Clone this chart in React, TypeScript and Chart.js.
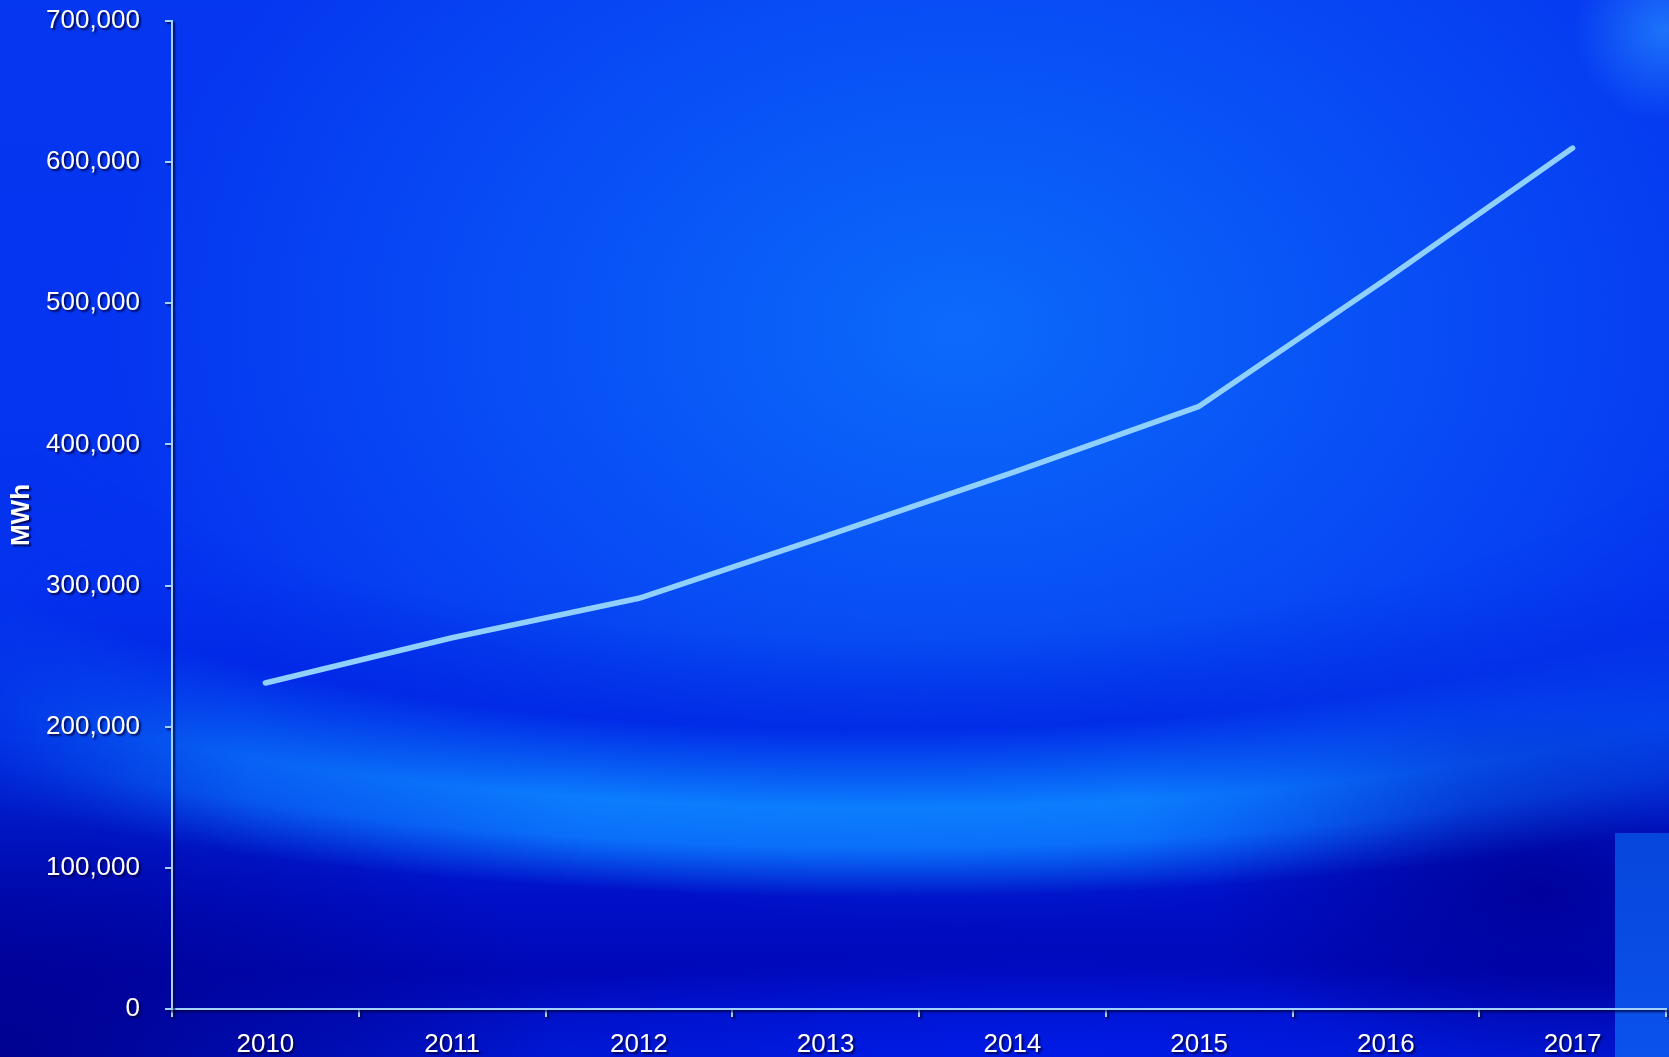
import React, { useEffect, useRef } from "react";
import { Chart, registerables } from "chart.js";

Chart.register(...registerables);

const years = ["2010", "2011", "2012", "2013", "2014", "2015", "2016", "2017"];
const mwh = [231000, 263000, 291000, 335000, 380000, 427000, 517000, 610000];
const yMin = 0;
const yMax = 700000;
const yStep = 100000;
const yTitle = "MWh";

const FONT = "'Liberation Sans', Arial, Helvetica, sans-serif";
const AXIS = "#9fd2ff";

const shadowPlugin = {
  id: "textShadow",
  beforeDraw(chart: any) {
    const ctx = chart.ctx;
    ctx.shadowColor = "rgba(0,0,60,0.85)";
    ctx.shadowOffsetX = 2;
    ctx.shadowOffsetY = 2;
    ctx.shadowBlur = 2;
  },
  beforeDatasetsDraw(chart: any) {
    const ctx = chart.ctx;
    ctx.shadowColor = "rgba(0,0,0,0)";
    ctx.shadowOffsetX = 0;
    ctx.shadowOffsetY = 0;
    ctx.shadowBlur = 0;
  },
};

export default function App() {
  const ref = useRef<HTMLCanvasElement | null>(null);

  useEffect(() => {
    if (!ref.current) return;
    const chart = new Chart(ref.current, {
      type: "line",
      data: {
        labels: years,
        datasets: [
          {
            data: mwh,
            borderColor: "#8fd0ff",
            borderWidth: 5.5,
            borderCapStyle: "round",
            borderJoinStyle: "round",
            pointRadius: 0,
            tension: 0,
            fill: false,
          },
        ],
      },
      options: {
        animation: false,
        responsive: true,
        maintainAspectRatio: false,
        layout: { padding: { top: 0, right: 3, left: 0, bottom: 0 } },
        plugins: { legend: { display: false }, tooltip: { enabled: false } },
        scales: {
          x: {
            offset: true,
            grid: {
              offset: true,
              drawOnChartArea: false,
              drawTicks: true,
              tickLength: 8,
              color: AXIS,
              lineWidth: 2,
            },
            border: { display: true, color: AXIS, width: 2 },
            ticks: {
              color: "#ffffff",
              padding: 12,
              font: { family: FONT, size: 26 },
              maxRotation: 0,
            },
            afterFit: (s: any) => {
              s.height = 48;
              s.paddingLeft = 0;
              s.paddingRight = 0;
            },
          },
          y: {
            min: yMin,
            max: yMax,
            grid: {
              drawOnChartArea: false,
              drawTicks: true,
              tickLength: 7,
              color: AXIS,
              lineWidth: 2,
            },
            border: { display: true, color: AXIS, width: 2 },
            ticks: {
              stepSize: yStep,
              color: "#ffffff",
              padding: 25,
              font: { family: FONT, size: 26 },
              callback: (v: any) => Number(v).toLocaleString("en-US"),
            },
            title: {
              display: true,
              text: yTitle,
              color: "#ffffff",
              font: { family: FONT, size: 26, weight: "bold" },
              padding: { top: 6, bottom: 0 },
            },
            afterFit: (s: any) => {
              s.width = 172;
              s.paddingTop = 21;
              s.paddingBottom = 0;
            },
          },
        },
      },
      plugins: [shadowPlugin],
    } as any);
    return () => chart.destroy();
  }, []);

  const bg = [
    "radial-gradient(circle 90px at 1664px 30px, rgba(40,140,255,0.7), rgba(40,140,255,0))",
    "radial-gradient(ellipse 560px 320px at 0px 1057px, rgba(0,0,140,0.95), rgba(0,0,140,0))",
    "radial-gradient(ellipse 330px 180px at 1540px 890px, rgba(0,0,150,0.9), rgba(0,0,150,0))",
    "radial-gradient(ellipse 700px 110px at 1050px 1057px, rgba(0,28,235,0.85), rgba(0,28,235,0))",
    "radial-gradient(ellipse 850px 600px at 960px 330px, rgba(12,112,252,0.9), rgba(12,112,252,0))",
    "linear-gradient(to bottom, #0536f0 0%, #0534f0 55%, #0024dc 75%, #0010c8 85%, #0008b8 92%, #0016cc 100%)",
  ].join(", ");

  const ringTop = 450;
  const ring =
    `radial-gradient(ellipse 1700px 560px at 880px ${360 - ringTop}px, rgba(0,30,230,0) 50%, rgba(0,34,230,0.6) 66%, rgba(12,130,255,0.95) 80%, rgba(12,125,255,0.85) 87%, rgba(0,20,200,0) 96%)`;
  const ringMask =
    "linear-gradient(to right, rgba(0,0,0,0.15) 0%, rgba(0,0,0,0.7) 15%, #000 35%, #000 68%, rgba(0,0,0,0.45) 88%, rgba(0,0,0,0.3) 100%)";

  return (
    <div
      style={{
        position: "fixed",
        left: 0,
        top: 0,
        width: "100vw",
        height: "100vh",
        background: bg,
        overflow: "hidden",
      }}
    >
      <div
        style={{
          position: "absolute",
          left: 0,
          right: 0,
          top: ringTop,
          bottom: 0,
          background: ring,
          WebkitMaskImage: ringMask,
          maskImage: ringMask,
        }}
      />
      <div
        style={{
          position: "absolute",
          left: 1615,
          top: 833,
          right: 0,
          bottom: 0,
          background: "linear-gradient(to bottom, #0746dc, #0a52ec)",
        }}
      />
      <div style={{ position: "absolute", inset: 0 }}>
        <canvas ref={ref} />
      </div>
    </div>
  );
}
